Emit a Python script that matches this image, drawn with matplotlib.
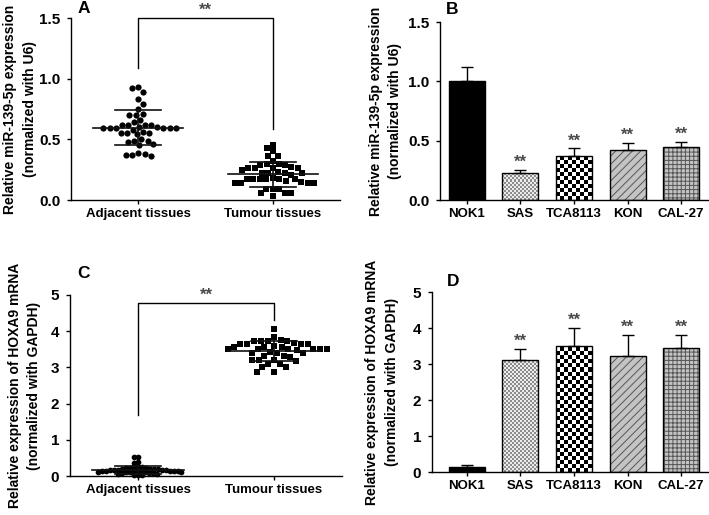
import numpy as np
import matplotlib
matplotlib.use('Agg')
import matplotlib.pyplot as plt
from matplotlib.colors import ListedColormap

plt.rcParams['font.family'] = ['Liberation Sans', 'DejaVu Sans']
plt.rcParams['font.weight'] = 'bold'
plt.rcParams['hatch.linewidth'] = 0.7

# ---------------- data ----------------
groups = ['Adjacent tissues', 'Tumour tissues']

a_adjacent = [0.93, 0.92, 0.89, 0.83, 0.79, 0.75, 0.71, 0.70, 0.70, 0.66,
              0.64, 0.62, 0.62, 0.62, 0.62, 0.60, 0.60, 0.59, 0.59, 0.59,
              0.59, 0.59, 0.59, 0.58, 0.56, 0.55, 0.55, 0.55, 0.54, 0.50,
              0.49, 0.49, 0.48, 0.46, 0.45, 0.38, 0.37, 0.36, 0.37, 0.39]
a_tumour = [0.455, 0.427, 0.40, 0.366, 0.366, 0.32, 0.30, 0.30, 0.29, 0.29,
            0.27, 0.26, 0.26, 0.26, 0.26, 0.25, 0.23, 0.22, 0.22, 0.22,
            0.22, 0.21, 0.18, 0.17, 0.17, 0.17, 0.17, 0.17, 0.17, 0.16,
            0.14, 0.14, 0.14, 0.14, 0.15, 0.09, 0.09, 0.09, 0.06, 0.055,
            0.06, 0.03]

cell_lines = ['NOK1', 'SAS', 'TCA8113', 'KON', 'CAL-27']
b_means = [1.00, 0.23, 0.37, 0.42, 0.45]
b_err = [0.12, 0.025, 0.065, 0.06, 0.038]
sig_labels = ['', '**', '**', '**', '**']

c_adjacent = [0.53, 0.52, 0.38, 0.37, 0.26, 0.25, 0.24, 0.23, 0.22, 0.21,
              0.20, 0.19, 0.18, 0.18, 0.17, 0.17, 0.16, 0.16, 0.16, 0.15,
              0.15, 0.15, 0.14, 0.14, 0.14, 0.13, 0.13, 0.12, 0.12, 0.11,
              0.10, 0.10, 0.09, 0.08, 0.07, 0.06, 0.05, 0.04, 0.03, 0.02]
c_tumour = [4.05, 3.83, 3.74, 3.72, 3.76, 3.72, 3.74, 3.66, 3.66, 3.67,
            3.65, 3.66, 3.57, 3.58, 3.57, 3.56, 3.50, 3.50, 3.49, 3.51,
            3.50, 3.50, 3.50, 3.41, 3.41, 3.42, 3.40, 3.31, 3.30, 3.32,
            3.20, 3.21, 3.19, 3.20, 3.10, 3.10, 3.00, 3.00, 2.88, 2.88]

d_means = [0.14, 3.12, 3.51, 3.21, 3.45]
d_err = [0.05, 0.29, 0.49, 0.59, 0.35]

ylabel_mir = 'Relative miR-139-5p expression\n(normalized with U6)'
ylabel_hox = 'Relative expression of HOXA9 mRNA\n(normalized with GAPDH)'

# ---------------- figure ----------------
W, H = 709, 515
fig = plt.figure(figsize=(W / 100, H / 100), dpi=100)


def px_axes(left, top, right, bottom):
    return fig.add_axes([left / W, 1 - bottom / H, (right - left) / W, (bottom - top) / H])


XFS = 9.5
YFS = 11


def style(ax):
    for s in ['top', 'right']:
        ax.spines[s].set_visible(False)
    for s in ['left', 'bottom']:
        ax.spines[s].set_linewidth(1.0)
    ax.tick_params(direction='out', length=3.2, width=1.0)
    ax.tick_params(axis='x', labelsize=XFS, pad=2.5)
    ax.tick_params(axis='y', labelsize=YFS, pad=4.5)
    for lab in ax.get_xticklabels() + ax.get_yticklabels():
        lab.set_fontweight('bold')


def swarm_x(ax, xc, values, d_px):
    trans = ax.transData
    inv = trans.inverted()
    ys = [trans.transform((xc, v))[1] for v in values]
    x0 = trans.transform((xc, 0))[0]
    order = np.argsort(values)[::-1]
    placed = []
    out = np.zeros(len(values))
    flip = 1
    for i in order:
        y = ys[i]
        cands = [0.0]
        for (px, py) in placed:
            dy = y - py
            if abs(dy) < d_px:
                dx = np.sqrt(d_px ** 2 - dy ** 2)
                cands += [px + dx + 1e-6, px - dx - 1e-6]
        cands.sort(key=lambda c: (round(abs(c), 3), -flip * c))
        chosen = 0.0
        for c in cands:
            if all((c - px) ** 2 + (y - py) ** 2 >= d_px ** 2 - 1e-3 for px, py in placed):
                chosen = c
                break
        flip = -flip
        placed.append((chosen, y))
        out[i] = inv.transform((x0 + chosen, y))[0]
    return out


def scatter_panel(ax, data_list, markers, sizes, dpx_list, ylim, yticks, bracket, star_y_pts=0):
    ax.set_xlim(-0.5, 1.5)
    ax.set_ylim(*ylim)
    for i, (vals, m, s, dpx) in enumerate(zip(data_list, markers, sizes, dpx_list)):
        xs = swarm_x(ax, i, vals, dpx)
        ax.scatter(xs, vals, marker=m, s=s, color='black', linewidths=0, zorder=3, clip_on=False)
        mu = np.mean(vals)
        sd = np.std(vals, ddof=1)
        kw = dict(color='#111111', lw=1.2, zorder=4)
        ax.plot([i - 0.335, i + 0.335], [mu, mu], **kw)
        ax.plot([i - 0.17, i + 0.17], [mu + sd, mu + sd], **kw)
        ax.plot([i - 0.17, i + 0.17], [mu - sd, mu - sd], **kw)
        ax.plot([i, i], [mu - sd, mu + sd], **kw)
    top, lbot, rbot = bracket
    ax.plot([0, 0, 1, 1], [lbot, top, top, rbot], color='black', lw=1.0, clip_on=False)
    ax.annotate('**', xy=(0.5, top), xytext=(0, star_y_pts), textcoords='offset points',
                ha='center', va='bottom', fontsize=12, color='#4a4a4a', annotation_clip=False)
    ax.set_xticks([0, 1])
    ax.set_xticklabels(groups)
    ax.set_yticks(yticks)
    style(ax)


def checker_image(ax, cell, c1, c2, clip, z):
    fig.canvas.draw()
    abox = ax.get_window_extent()
    nx = int(np.ceil(abox.width / cell))
    ny = int(np.ceil(abox.height / cell))
    arr = (np.indices((ny, nx)).sum(axis=0) % 2).astype(float)
    im = ax.imshow(arr, cmap=ListedColormap([c1, c2]), extent=(0, 1, 0, 1),
                   transform=ax.transAxes, interpolation='nearest', aspect='auto',
                   zorder=z, origin='lower')
    im.set_clip_path(clip)


def bar_panel(ax, means, errs, ylim, yticks, xlim):
    x = np.arange(len(cell_lines))
    ax.set_xlim(*xlim)
    ax.set_ylim(*ylim)
    width = 0.67
    faces = ['black', 'white', 'white', '#c4c4c4', '#c4c4c4']
    hatches = [None, None, None, '////', '++++']
    hatch_cols = ['black', '#555555', 'black', '#555555', '#555555']
    bars = []
    for i in range(len(x)):
        b = ax.bar(x[i], means[i], width=width, color=faces[i], hatch=hatches[i],
                   edgecolor=hatch_cols[i], linewidth=0, zorder=2)
        bars.append(b[0])
    checker_image(ax, 2.0, '#8c8c8c', '#ececec', bars[1], 2.5)
    checker_image(ax, 4.0, 'black', 'white', bars[2], 2.5)
    ax.set_xlim(*xlim)
    ax.set_ylim(*ylim)
    ax.bar(x, means, width=width, fill=False, edgecolor='black', linewidth=1.0, zorder=3)
    lower = np.zeros(len(x))
    ax.errorbar(x, means, yerr=[lower, errs], fmt='none', ecolor='black',
                elinewidth=1.0, capsize=4.5, capthick=1.0, zorder=3)
    for i in range(len(x)):
        if sig_labels[i]:
            ax.annotate(sig_labels[i], xy=(x[i], means[i] + errs[i]), xytext=(0, 0),
                        textcoords='offset points', ha='center', va='bottom',
                        fontsize=12, color='#4a4a4a')
    ax.set_xticks(x)
    ax.set_xticklabels(cell_lines)
    ax.set_yticks(yticks)
    style(ax)


# Panel A
axA = px_axes(71, 18, 340, 200)
scatter_panel(axA, [a_adjacent, a_tumour], ['o', 's'], [20, 16], [6.5, 6.5],
              (0, 1.5), [0.0, 0.5, 1.0, 1.5], (1.5, 1.09, 0.587))
axA.set_yticklabels(['0.0', '0.5', '1.0', '1.5'])
axA.set_ylabel(ylabel_mir, fontsize=10, fontweight='bold', linespacing=1.5, labelpad=1.5)

# Panel B
axB = px_axes(440, 22, 708, 200)
bar_panel(axB, b_means, b_err, (0, 1.5), [0.0, 0.5, 1.0, 1.5], (-0.5, 4.5))
axB.set_yticklabels(['0.0', '0.5', '1.0', '1.5'])
axB.set_ylabel(ylabel_mir, fontsize=10, fontweight='bold', linespacing=1.5, labelpad=4)

# Panel C
axC = px_axes(70, 295, 342, 476)
scatter_panel(axC, [c_adjacent, c_tumour], ['o', 's'], [17, 16], [4.0, 7.0],
              (0, 5), [0, 1, 2, 3, 4, 5], (4.78, 1.68, 4.3))
axC.set_ylabel(ylabel_hox, fontsize=10, fontweight='bold', linespacing=1.5, labelpad=7)

# Panel D
axD = px_axes(432, 292, 708, 472)
bar_panel(axD, d_means, d_err, (0, 5), [0, 1, 2, 3, 4, 5], (-0.65, 4.5))
axD.set_ylabel(ylabel_hox, fontsize=10, fontweight='bold', linespacing=1.5, labelpad=10)

# Panel letters
for letter, (px, py) in zip('ABCD', [(78, 1), (446, 2), (77, 266), (447, 274)]):
    fig.text(px / W, 1 - py / H, letter, fontsize=12.5, fontweight='bold', ha='left', va='top')

fig.savefig('out.png', dpi=100)
